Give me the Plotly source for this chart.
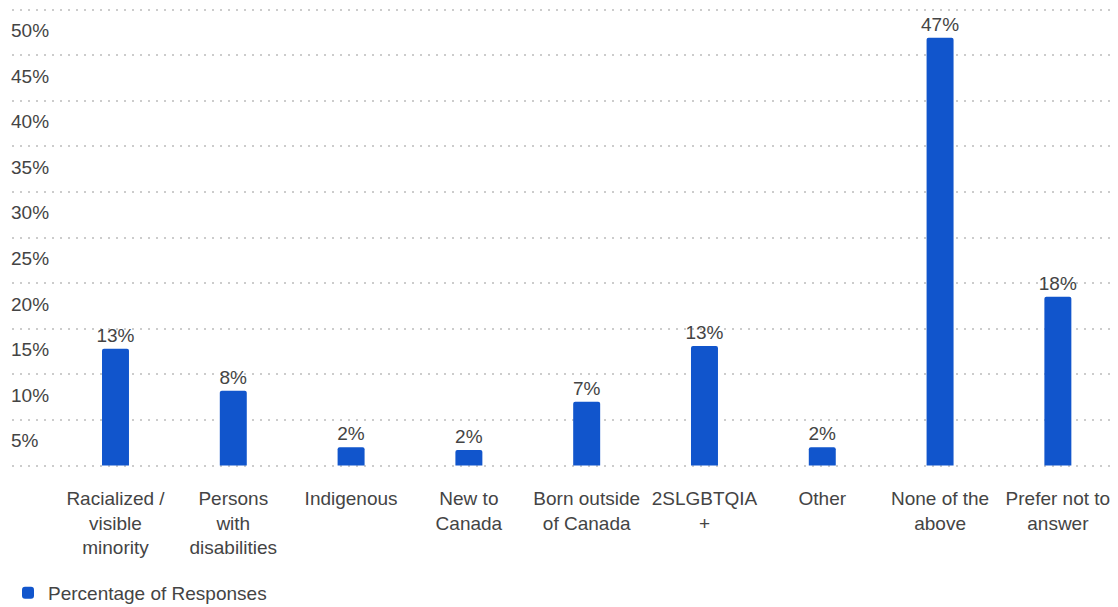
import plotly.graph_objects as go

categories = ["Racialized /<br>visible<br>minority", "Persons<br>with<br>disabilities", "Indigenous",
              "New to<br>Canada", "Born outside<br>of Canada", "2SLGBTQIA<br>+", "Other",
              "None of the<br>above", "Prefer not to<br>answer"]
values = [12.8, 8.2, 2.0, 1.7, 7.0, 13.1, 2.0, 46.9, 18.5]
value_labels = ["13%", "8%", "2%", "2%", "7%", "13%", "2%", "47%", "18%"]
y_ticks = [5, 10, 15, 20, 25, 30, 35, 40, 45, 50]
y_tick_labels = ["5%", "10%", "15%", "20%", "25%", "30%", "35%", "40%", "45%", "50%"]
series_name = "Percentage of Responses"

FONT = "Liberation Sans, Arial, sans-serif"
BAR = "#1155cc"
TXT = "#444444"

fig = go.Figure()
fig.add_trace(go.Bar(
    x=categories, y=values, name=series_name,
    marker=dict(color=BAR, line=dict(width=0)),
    marker_cornerradius=2,
    text=value_labels, textposition="outside", constraintext="none",
    textfont=dict(family=FONT, size=19, color=TXT),
    cliponaxis=False, showlegend=True,
))

for v, t in zip(y_ticks, y_tick_labels):
    fig.add_annotation(x=0, xref="paper", y=v, yref="y", text=t, showarrow=False,
                       xanchor="left", yanchor="middle", yshift=-21, xshift=-3,
                       font=dict(family=FONT, size=19, color=TXT))

fig.update_layout(
    width=1110, height=599,
    margin=dict(l=4, r=1, t=0, b=139, autoexpand=False),
    paper_bgcolor="white", plot_bgcolor="white",
    bargap=0.771,
    font=dict(family=FONT, size=19, color=TXT),
    showlegend=True,
    legend=dict(orientation="h", xref="container", yref="paper", x=-0.0036, y=-0.2717,
                xanchor="left", yanchor="middle",
                font=dict(family=FONT, size=19, color=TXT)),
    xaxis=dict(type="category", range=[-0.8786, 8.502], showgrid=False, showline=False,
               zeroline=False, ticks="", ticklabelstandoff=17,
               tickfont=dict(family=FONT, size=19, color=TXT)),
    yaxis=dict(range=[-0.274, 50.164], tickvals=[0] + y_ticks, showticklabels=False,
               showgrid=True, gridcolor="#cccccc", gridwidth=2, griddash="2px,6px",
               zeroline=False, showline=False, ticks=""),
)

fig.write_html("out.html")
